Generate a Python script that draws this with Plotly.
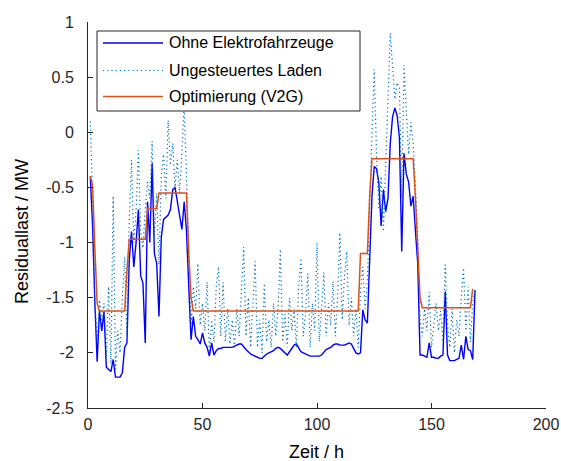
import plotly.graph_objects as go

# Stunden der betrachteten Woche
stunden = list(range(1, 170))

# Residuallast ohne Elektrofahrzeuge (MW)
ohne_ev = [
    -0.40, -0.85, -1.55, -2.08, -1.62, -1.80, -1.63, -2.13, -2.15, -2.17,
    -2.06, -2.22, -2.22, -2.22, -2.18, -1.95, -1.91, -1.17, -0.90, -1.22,
    -1.00, -0.70, -1.30, -1.37, -1.91, -0.63, -1.00, -0.28, -1.10, -1.19,
    -1.67, -0.95, -0.79, -0.77, -0.75, -0.70, -0.52, -0.50, -0.63, -0.78,
    -0.88, -0.63, -0.89, -1.40, -1.88, -1.67, -1.85, -1.88, -1.92, -1.82,
    -1.91, -1.95, -2.03, -1.91, -2.02, -1.98, -1.96, -1.96, -1.95, -1.95,
    -1.95, -1.95, -1.95, -1.94, -1.93, -1.92, -1.92, -1.95, -1.97, -1.99,
    -2.01, -2.02, -2.03, -2.04, -2.05, -2.05, -2.03, -2.01, -2.00, -1.99,
    -1.98, -1.96, -1.95, -1.96, -1.98, -2.00, -2.02, -1.99, -1.96, -1.93,
    -1.92, -1.96, -1.99, -2.00, -2.01, -2.02, -2.03, -2.03, -2.03, -2.03,
    -2.03, -2.02, -1.99, -1.97, -1.96, -1.95, -1.93, -1.92, -1.92, -1.93,
    -1.93, -1.93, -1.92, -1.91, -1.92, -1.96, -2.00, -2.01, -2.00, -1.61,
    -1.70, -1.73, -1.20, -0.58, -0.31, -0.33, -0.46, -0.85, -0.52, -0.72,
    -0.60, -0.10, 0.14, 0.22, 0.15, -0.05, -1.08, -0.19, -0.38, -0.45,
    -0.67, -0.58, -0.90, -1.19, -2.02, -2.02, -2.03, -2.04, -1.91, -2.04,
    -2.04, -2.05, -2.05, -2.03, -2.02, -1.445, -2.02, -2.07, -2.07, -2.07,
    -2.06, -2.05, -1.93, -2.06, -1.85, -1.97, -1.98, -2.06, -1.43,
]

# Residuallast mit ungesteuertem Laden (MW)
ungesteuert = [
    0.10, -0.60, -1.55, -1.90, -1.52, -1.70, -1.55, -2.05, -1.40, -2.10,
    -0.58, -2.15, -1.80, -2.00, -1.50, -1.13, -1.85, -0.80, -0.25, -1.00,
    -0.70, -0.16, -0.90, -1.05, -0.70, -0.45, -0.60, -0.08, -0.95, -0.55,
    -1.20, -0.40, -0.20, -0.60, 0.11, -0.30, -0.10, -0.50, -0.25, -0.55,
    -0.20, 0.25, -0.40, -1.10, -1.75, -1.40, -1.60, -1.19, -1.75, -1.55,
    -1.80, -1.36, -2.00, -1.70, -1.90, -1.40, -1.22, -1.85, -1.36, -1.90,
    -1.60, -1.92, -1.70, -1.95, -1.60, -1.85, -1.40, -1.04, -1.85, -1.50,
    -1.95, -1.60, -1.17, -1.95, -1.70, -2.00, -1.37, -1.90, -1.70, -1.95,
    -1.55, -1.85, -1.60, -1.06, -1.90, -1.65, -1.95, -1.50, -1.80, -1.60,
    -1.95, -1.40, -1.14, -1.85, -1.65, -1.28, -1.95, -1.55, -1.80, -1.005,
    -1.90, -1.60, -1.27, -1.85, -1.55, -1.75, -1.35, -1.85, -1.50, -0.91,
    -1.70, -1.30, -1.08, -1.75, -1.50, -1.85, -1.60, -1.95, -1.45, -1.22,
    -1.60, -1.35, -0.60, 0.00, 0.57, -0.20, -0.70, -0.40, -0.90, -0.30,
    0.30, 0.90, 0.60, 0.30, 0.45, 0.40, -0.60, 0.61, 0.20, -0.20,
    0.09, -0.10, -0.50, -0.95, -1.70, -1.85, -1.60, -1.80, -1.45, -1.95,
    -1.75, -1.55, -1.80, -1.62, -1.90, -1.20, -1.75, -1.95, -1.60, -2.00,
    -1.70, -1.85, -1.50, -1.23, -1.80, -1.40, -1.90, -1.55, -1.43,
]

# Residuallast mit optimiertem Laden / Rückspeisung (MW)
optimiert = (
    [-0.40, -0.48, -1.05, -1.55]
    + [-1.62] * 12
    + [-1.25]
    + [-0.97] * 8
    + [-0.69] * 5
    + [-0.55] * 13
    + [-1.10, -1.50]
    + [-1.62] * 73
    + [-1.10] * 4
    + [-0.58]
    + [-0.24] * 19
    + [-0.60, -1.10, -1.50]
    + [-1.59] * 22
    + [-1.42]
)

serien_namen = ["Ohne Elektrofahrzeuge", "Ungesteuertes Laden", "Optimierung (V2G)"]
farben = ["#0000FF", "#0072BD", "#D95319"]

x_ticks = [0, 50, 100, 150, 200]
y_ticks = [-2.5, -2, -1.5, -1, -0.5, 0, 0.5, 1]
y_tick_text = ["-2.5", "-2", "-1.5", "-1", "-0.5", "0", "0.5", "1"]

FONT = "Liberation Sans, Arial, Helvetica, sans-serif"
W, H = 561, 461
L, R, T, B = 88, 15, 22, 53

fig = go.Figure()
fig.add_trace(go.Scatter(x=stunden, y=ohne_ev, mode="lines", name=serien_namen[0],
                         line=dict(color=farben[0], width=1.4)))
fig.add_trace(go.Scatter(x=stunden, y=ungesteuert, mode="lines", name=serien_namen[1],
                         line=dict(color=farben[1], width=1.2, dash="1.2px,3px")))
fig.add_trace(go.Scatter(x=stunden, y=optimiert, mode="lines", name=serien_namen[2],
                         line=dict(color=farben[2], width=1.5)))

# Pixelpositionen im Bild in Papierkoordinaten umrechnen
pw, ph = W - L - R, H - T - B


def px(xpix):
    return (xpix - L) / pw


def py(ypix):
    return (H - B - ypix) / ph


# eigene Legende mit Rahmen
shapes = [dict(type="rect", xref="paper", yref="paper",
               x0=px(97), x1=px(360), y0=py(111), y1=py(31),
               fillcolor="white", line=dict(color="#262626", width=1), layer="above")]
dashes = ["solid", "1.2px,3px", "solid"]
widths = [1.4, 1.2, 1.5]
annotations = []
for i, (name, col) in enumerate(zip(serien_namen, farben)):
    yl = [43, 70.5, 96.5][i]
    shapes.append(dict(type="line", xref="paper", yref="paper",
                       x0=px(103), x1=px(163), y0=py(yl), y1=py(yl),
                       line=dict(color=col, width=widths[i], dash=dashes[i]), layer="above"))
    annotations.append(dict(xref="paper", yref="paper", x=px(167), y=py(yl),
                            text=name, showarrow=False, xanchor="left", yanchor="middle",
                            font=dict(family=FONT, size=16, color="#000000")))

# Achsenbeschriftungen
annotations.append(dict(xref="paper", yref="paper", x=px(316), y=py(452), text="Zeit / h",
                        showarrow=False, xanchor="center", yanchor="middle",
                        font=dict(family=FONT, size=18, color="#000000")))
annotations.append(dict(xref="paper", yref="paper", x=px(22), y=py(232),
                        text="Residuallast / MW", textangle=-90, showarrow=False,
                        xanchor="center", yanchor="middle",
                        font=dict(family=FONT, size=18, color="#000000")))

fig.update_layout(
    width=W, height=H,
    margin=dict(l=L, r=R, t=T, b=B),
    paper_bgcolor="white", plot_bgcolor="white",
    showlegend=False,
    shapes=shapes,
    annotations=annotations,
    font=dict(family=FONT, size=16, color="#262626"),
    xaxis=dict(range=[0, 200], tickvals=x_ticks, ticks="inside", ticklen=5,
               tickcolor="#262626", showline=True, linecolor="#262626", linewidth=1,
               showgrid=False, zeroline=False, ticklabelstandoff=2, automargin=False),
    yaxis=dict(range=[-2.5, 1], tickvals=y_ticks, ticktext=y_tick_text, ticks="inside",
               ticklen=5, tickcolor="#262626", showline=True, linecolor="#262626",
               linewidth=1, showgrid=False, zeroline=False, ticklabelstandoff=10,
               automargin=False),
)

fig.write_html("out.html")
